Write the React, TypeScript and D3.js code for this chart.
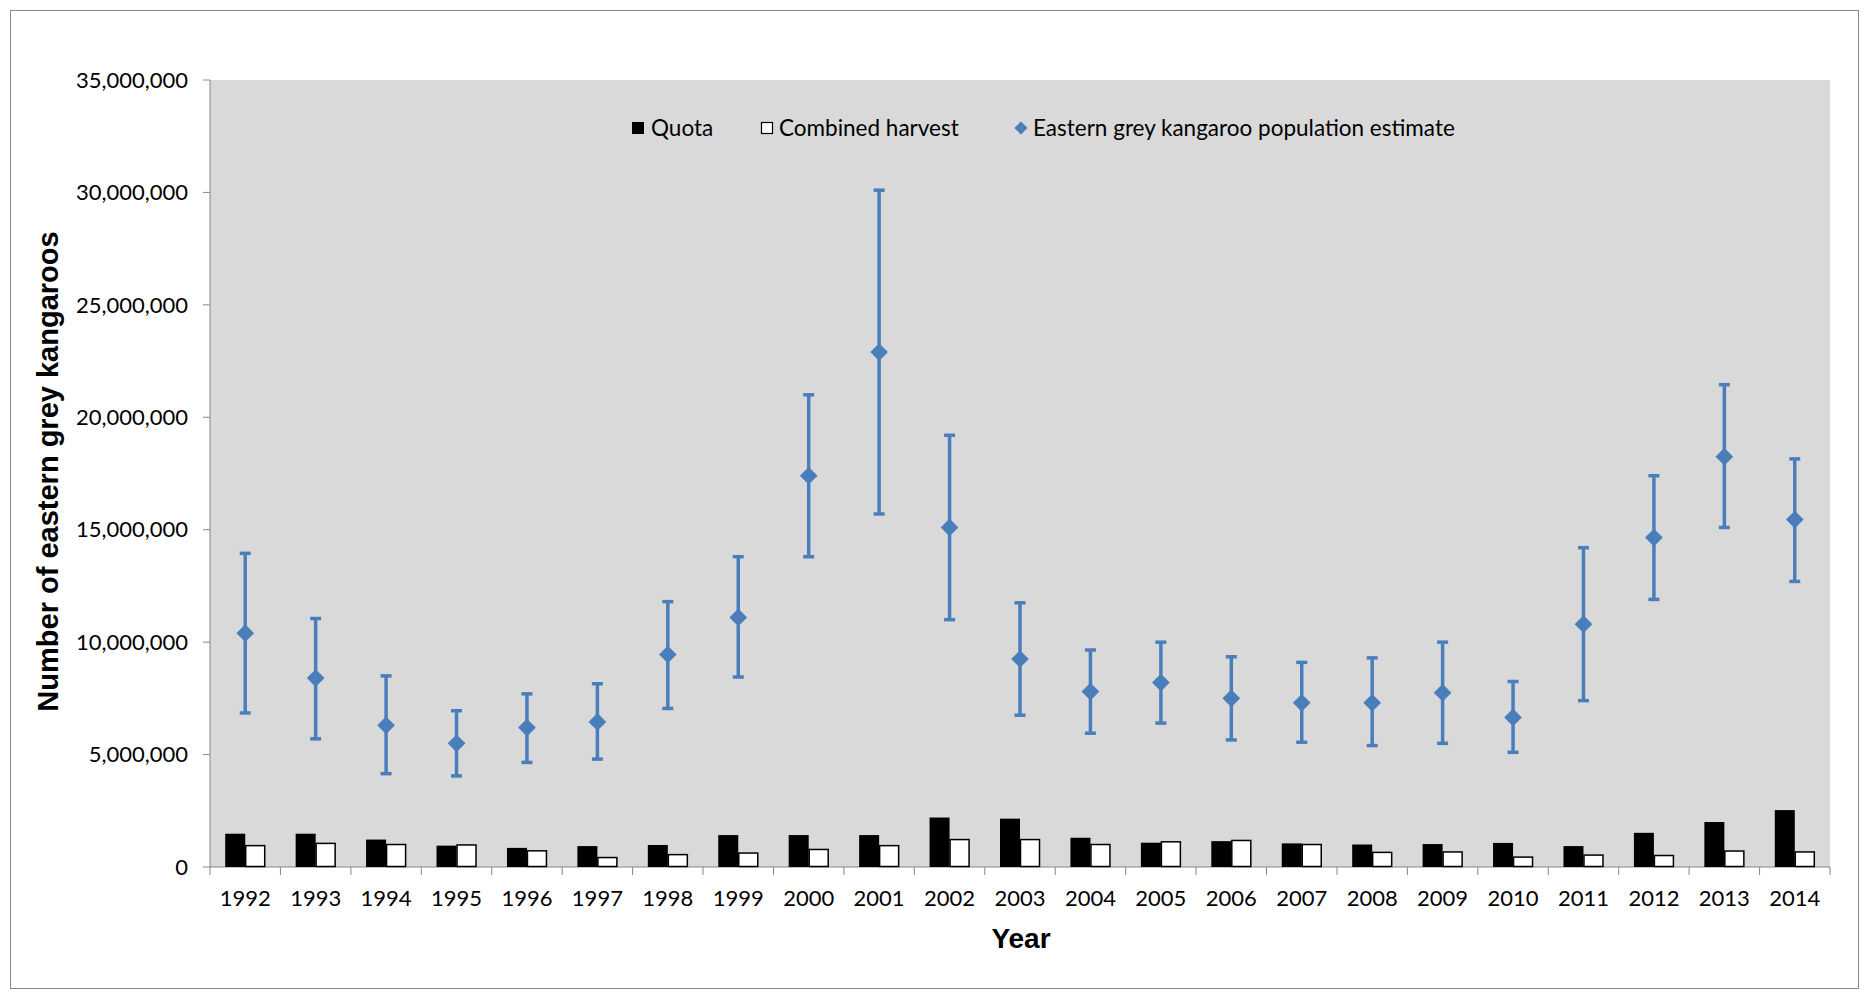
import React from "react";
import * as d3 from "d3";

const years = ["1992","1993","1994","1995","1996","1997","1998","1999","2000","2001","2002","2003","2004","2005","2006","2007","2008","2009","2010","2011","2012","2013","2014"];
const quota = [1.48,1.48,1.22,0.95,0.85,0.93,0.98,1.42,1.42,1.42,2.2,2.15,1.3,1.08,1.15,1.05,1.0,1.02,1.07,0.93,1.52,2.0,2.53].map(v=>v*1e6);
const harvest = [0.95,1.05,1.0,0.98,0.72,0.42,0.55,0.62,0.78,0.95,1.22,1.22,1.0,1.12,1.18,1.0,0.65,0.67,0.44,0.53,0.51,0.71,0.67].map(v=>v*1e6);
const estimate = [10.4,8.4,6.3,5.5,6.2,6.45,9.45,11.1,17.4,22.9,15.1,9.25,7.8,8.2,7.5,7.3,7.3,7.75,6.65,10.8,14.65,18.25,15.45].map(v=>v*1e6);
const low = [6.85,5.7,4.15,4.05,4.65,4.8,7.05,8.45,13.8,15.7,11.0,6.75,5.95,6.4,5.65,5.55,5.4,5.5,5.1,7.4,11.9,15.1,12.7].map(v=>v*1e6);
const high = [13.95,11.05,8.5,6.95,7.7,8.15,11.8,13.8,21.0,30.1,19.2,11.75,9.65,10.0,9.35,9.1,9.3,10.0,8.25,14.2,17.4,21.45,18.15].map(v=>v*1e6);
const yTicks = [0,5e6,10e6,15e6,20e6,25e6,30e6,35e6];

export default function App() {
  const L = 210, R = 1830, T = 80, B = 867;
  const x = d3.scaleBand().domain(years).range([L, R]);
  const y = d3.scaleLinear().domain([0, 35e6]).range([B, T]);
  const bw = 20;
  const fmt = d3.format(",");
  const blue = "#4a7ebb";
  const diamond = d3.symbol().type(d3.symbolDiamond2).size(200)()!;
  const font = "Lato, 'Open Sans', sans-serif";
  return (
    <svg width={1868} height={993} style={{ display: "block", position: "absolute", left: 0, top: 0 }}>
      <rect x={0} y={0} width={1868} height={993} fill="#fff" />
      <rect x={10.5} y={10.5} width={1848} height={978} fill="none" stroke="#888" strokeWidth={1} />
      <rect x={L} y={T} width={R - L} height={B - T} fill="#d9d9d9" />
      {yTicks.map(t => (
        <g key={t}>
          <line x1={L - 7} x2={L} y1={y(t)} y2={y(t)} stroke="#868686" />
          <text x={L - 22} y={y(t)} dy="0.35em" textAnchor="end" fontFamily={font} fontSize={22}>{fmt(t)}</text>
        </g>
      ))}
      <line x1={L} x2={L} y1={T} y2={B} stroke="#868686" />
      <line x1={L} x2={R} y1={B} y2={B} stroke="#868686" />
      {years.map((yr, i) => (
        <g key={yr}>
          <line x1={x(yr)!} x2={x(yr)!} y1={B} y2={B + 8} stroke="#868686" />
          <text x={x(yr)! + x.bandwidth() / 2} y={B + 39} textAnchor="middle" fontFamily={font} fontSize={22}>{yr}</text>
          <rect x={x(yr)! + x.bandwidth() / 2 - bw} y={y(quota[i])} width={bw} height={B - y(quota[i])} fill="#000" />
          <rect x={x(yr)! + x.bandwidth() / 2 + 0.5} y={y(harvest[i])} width={bw - 1} height={B - y(harvest[i]) - 0.5} fill="#fff" stroke="#000" strokeWidth={1.5} />
        </g>
      ))}
      <line x1={R} x2={R} y1={B} y2={B + 8} stroke="#868686" />
      {years.map((yr, i) => {
        const cx = x(yr)! + x.bandwidth() / 2;
        return (
          <g key={"e" + yr} stroke={blue} strokeWidth={3.5}>
            <line x1={cx} x2={cx} y1={y(low[i])} y2={y(high[i])} />
            <line x1={cx - 5.5} x2={cx + 5.5} y1={y(low[i])} y2={y(low[i])} />
            <line x1={cx - 5.5} x2={cx + 5.5} y1={y(high[i])} y2={y(high[i])} />
            <path d={diamond} transform={`translate(${cx},${y(estimate[i])})`} fill={blue} stroke="none" />
          </g>
        );
      })}
      <g fontFamily={font} fontSize={22.5}>
        <rect x={632} y={122} width={12} height={12} fill="#000" />
        <text x={651} y={128} dy="0.35em">Quota</text>
        <rect x={761.5} y={122.5} width={11} height={11} fill="#fff" stroke="#000" strokeWidth={1.2} />
        <text x={779} y={128} dy="0.35em">Combined harvest</text>
        <path d={d3.symbol().type(d3.symbolDiamond2).size(110)()!} transform="translate(1021,128)" fill={blue} />
        <text x={1033} y={128} dy="0.35em">Eastern grey kangaroo population estimate</text>
      </g>
      <text x={1021} y={948} textAnchor="middle" fontFamily="'Liberation Sans', Arial, sans-serif" fontWeight="bold" fontSize={28}>Year</text>
      <text transform={`translate(58,${(T + B) / 2 - 2}) rotate(-90)`} textAnchor="middle" fontFamily="'Liberation Sans', Arial, sans-serif" fontWeight="bold" fontSize={29}>Number of eastern grey kangaroos</text>
    </svg>
  );
}
